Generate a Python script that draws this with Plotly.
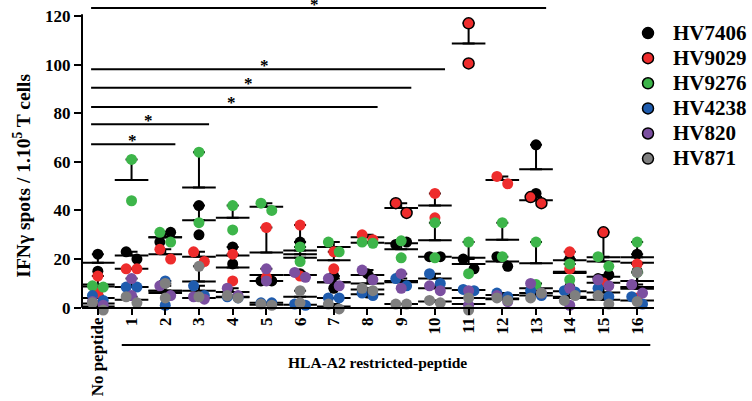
import numpy as np
import plotly.graph_objects as go

categories = ["No peptide"] + [str(i) for i in range(1, 17)]
donors = ["HV7406", "HV9029", "HV9276", "HV4238", "HV820", "HV871"]
donor_colors = ["#000000", "#EE2C2C", "#3DB54A", "#1F5CAE", "#7B4FA0", "#7F7F7F"]

# replicate values (IFNγ spots / 1e5 T cells), index 0 = No peptide, then peptides 1..16
hv7406_rep1 = [22, 23, 27, 42, 25, 11, 27, 13, 14, 26, 21, 20, 21, 67, 20, 12, 22]
hv7406_rep2 = [15, 20, 31, 30, 18, 11, 14, 8, 6, 27, 21, 16, 17, 47, 8.5, 13.5, 15]
hv9029_rep1 = [13, 16, 24, 23, 22, 33, 34, 23, 30, 43, 47, 117, 54, 45.5, 23, 31, 18]
hv9029_rep2 = [6, 16, 20, 19, 11, 12.5, 13, 16, 28, 39, 37, 100.5, 51, 43, 16, 10.5, 4]
hv9276_rep1 = [9, 61, 31, 64, 42, 43, 25, 27, 27, 27.5, 35, 27, 35, 27, 18, 21, 27]
hv9276_rep2 = [8.5, 44, 27, 35, 32, 40, 19, 23, 26.5, 20.5, 20.5, 14, 21, 9.5, 11.5, 17, 14.5]
hv4238_rep1 = [5, 8.5, 11, 9, 4.5, 2, 1.5, 4, 6, 12, 14, 7.5, 6, 7, 7, 8, 4.5]
hv4238_rep2 = [3, 8.5, 1, 5, 4, 2, 1, 4, 5, 9, 10, 7, 4.5, 5, 6.5, 4.5, 1.5]
hv820_rep1 = [2.5, 12, 9, 4.5, 8, 16, 14.5, 12, 15.5, 14, 9, 7, 5, 10, 8, 11.5, 9.5]
hv820_rep2 = [1, 5, 5, 3.5, 5, 11, 12.5, 9, 11.5, 8, 7, 1, 2.5, 6, 1, 9, 6]
hv871_rep1 = [2, 4.5, 10, 17, 5, 1.5, 7, 1.5, 8, 1.5, 3, 4, 4, 4, 3, 5, 14.5]
hv871_rep2 = [-1, 2, 4, 4.5, 4, 1, 2, -0.5, 7, 1.5, 2, -1, 3, 6, 5, 1.5, 2.5]

rep1 = [hv7406_rep1, hv9029_rep1, hv9276_rep1, hv4238_rep1, hv820_rep1, hv871_rep1]
rep2 = [hv7406_rep2, hv9029_rep2, hv9276_rep2, hv4238_rep2, hv820_rep2, hv871_rep2]

# peptides whose HV9029 dots are drawn with a dark outline in the original
hv9029_outlined = [9, 11, 13, 15]

# significance comparisons: No peptide vs peptide index, bar height
sig_targets = [2, 3, 8, 9, 10, 13]
sig_heights = [67.2, 75.5, 82.6, 90.5, 98.1, 123.3]
sig_labels = ["*", "*", "*", "*", "*", "*"]

y_ticks = [0, 20, 40, 60, 80, 100, 120]
y_top = 120.7
group_label = "HLA-A2 restricted-peptide"
y_title = "IFNγ spots / 1.10<sup>5</sup> T cells"

FONT = "Liberation Serif"
X_RANGE = [-0.47, 16.5]
Y_RANGE = [-3.83, 126.6]
CLOSE = 4.5
OFFSET = 0.16

fig = go.Figure()
idx = np.arange(len(categories))

# mean + SEM (upward) per donor
for d in range(len(donors)):
    a = np.array(rep1[d], dtype=float)
    b = np.array(rep2[d], dtype=float)
    pair = np.vstack([a, b])
    mean = pair.mean(axis=0)
    sem = pair.std(axis=0, ddof=1) / np.sqrt(2)
    fig.add_trace(go.Scatter(
        x=idx, y=mean, mode="markers", showlegend=False, hoverinfo="skip",
        marker=dict(symbol="line-ew", size=24, color="black",
                    line=dict(width=2, color="black")),
        error_y=dict(type="data", symmetric=False, array=sem,
                     arrayminus=np.zeros_like(sem), color="black",
                     thickness=2, width=6),
    ))

# replicate dots
for d in range(len(donors)):
    a = np.array(rep1[d], dtype=float)
    b = np.array(rep2[d], dtype=float)
    close = np.abs(a - b) < CLOSE
    xa = idx - np.where(close, OFFSET, 0)
    xb = idx + np.where(close, OFFSET, 0)
    outline = np.zeros(len(idx))
    if donors[d] == "HV9029":
        outline[hv9029_outlined] = 1.5
    fig.add_trace(go.Scatter(
        x=np.concatenate([xa, xb]), y=np.concatenate([a, b]),
        mode="markers", showlegend=False,
        marker=dict(size=11, color=donor_colors[d],
                    line=dict(width=np.concatenate([outline, outline]),
                              color="black")),
    ))

# legend entries
for d in range(len(donors)):
    fig.add_trace(go.Scatter(
        x=[None], y=[None], mode="markers",
        name='<span style="font-size:21px">%s</span>' % donors[d],
        marker=dict(size=11, color=donor_colors[d],
                    line=dict(width=1.5, color="black")),
    ))

shapes = []
annotations = []
# y axis line
shapes.append(dict(type="line", xref="paper", x0=0, x1=0, yref="y",
                   y0=0, y1=y_top, line=dict(color="black", width=2)))
# significance bars
for t, h, lab in zip(sig_targets, sig_heights, sig_labels):
    x0, x1 = -0.2, t + 0.3
    shapes.append(dict(type="line", xref="x", yref="y", x0=x0, x1=x1,
                       y0=h, y1=h, line=dict(color="black", width=2)))
    annotations.append(dict(x=x0 + 0.49 * (x1 - x0), y=h, xref="x", yref="y",
                            text=lab, showarrow=False, yanchor="middle",
                            yshift=4,
                            font=dict(family=FONT, size=17, color="black",
                                      weight="bold")))
# group bracket under peptides
shapes.append(dict(type="line", xref="x", yref="paper", x0=0.71, x1=16.39,
                   y0=-0.0883, y1=-0.0883, line=dict(color="black", width=2)))
annotations.append(dict(x=8.3, y=-0.142, xref="x", yref="paper",
                        text=group_label, showarrow=False,
                        xanchor="center", yanchor="middle",
                        font=dict(family=FONT, size=15.5, color="black",
                                  weight="bold")))
annotations.append(dict(x=-0.1054, y=54.2, xref="paper", yref="y",
                        text=y_title, showarrow=False, textangle=-90,
                        xanchor="center", yanchor="middle",
                        font=dict(family=FONT, size=19.5, color="black",
                                  weight="bold")))

fig.update_layout(
    width=752, height=401,
    margin=dict(l=82, r=96, t=0, b=84),
    plot_bgcolor="white", paper_bgcolor="white",
    shapes=shapes, annotations=annotations,
    xaxis=dict(range=X_RANGE, tickvals=list(idx), ticktext=categories,
               tickangle=-90, ticks="outside", ticklen=6, tickwidth=2,
               tickcolor="black", showline=True, linecolor="black",
               linewidth=2, showgrid=False, zeroline=False,
               anchor="free", ticklabelstandoff=-4,
               position=(0 - Y_RANGE[0]) / (Y_RANGE[1] - Y_RANGE[0]),
               tickfont=dict(family=FONT, size=17, color="black",
                             weight="bold")),
    yaxis=dict(range=Y_RANGE, tickvals=y_ticks, ticks="outside", ticklen=7,
               tickwidth=2, tickcolor="black", showline=False,
               showgrid=False, zeroline=False,
               tickfont=dict(family=FONT, size=17, color="black",
                             weight="bold")),
    legend=dict(x=0.946, y=0.951, xanchor="left", yanchor="top",
                itemwidth=40, bgcolor="rgba(0,0,0,0)",
                font=dict(family=FONT, size=17, color="black",
                          weight="bold")),
)

fig.write_html("out.html",
               config={"displayModeBar": False},
               post_script="document.body.style.margin='0px';")
